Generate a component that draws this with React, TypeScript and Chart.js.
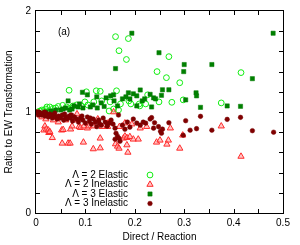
import React, { useEffect, useRef } from "react";
import { Chart, registerables } from "chart.js";

Chart.register(...registerables);

// Λ = 2 Elastic (open light-green circles)
const lambda2Elastic: [number, number][] = [
  [0.003, 1.0], [0.008, 1.01], [0.012, 1.02], [0.016, 1.015], [0.02, 1.03], [0.022, 1.05],
  [0.028, 1.05], [0.035, 1.037], [0.04, 1.04], [0.045, 1.055], [0.054, 1.066], [0.062, 1.05],
  [0.067, 1.215], [0.07, 1.04], [0.075, 1.06], [0.082, 1.07], [0.092, 1.06], [0.099, 1.1],
  [0.102, 1.2], [0.105, 1.07], [0.117, 1.1], [0.122, 1.21], [0.13, 1.205], [0.133, 1.11],
  [0.148, 1.01], [0.15, 1.1], [0.157, 1.03], [0.161, 1.746], [0.163, 1.21], [0.167, 1.02],
  [0.168, 1.607], [0.171, 1.08], [0.183, 1.52], [0.187, 1.727], [0.188, 1.11], [0.192, 1.08],
  [0.209, 1.08], [0.21, 1.06], [0.222, 1.08], [0.226, 1.17], [0.245, 1.4], [0.249, 1.1],
  [0.264, 1.34], [0.269, 1.548], [0.275, 1.096], [0.291, 1.29], [0.298, 1.12], [0.375, 1.09],
  [0.415, 1.39],
];

// Λ = 2 Inelastic (red triangles)
const lambda2Inelastic: [number, number][] = [
  [0.003, 0.99], [0.008, 0.97], [0.012, 0.95], [0.016, 0.82], [0.018, 0.86], [0.02, 0.93],
  [0.021, 0.83], [0.025, 0.82], [0.026, 0.795], [0.028, 0.805], [0.033, 0.745], [0.035, 0.92],
  [0.04, 0.95], [0.045, 0.9], [0.052, 0.82], [0.053, 0.69], [0.055, 0.825], [0.06, 0.92],
  [0.065, 0.69], [0.069, 0.69], [0.069, 0.96], [0.07, 0.83], [0.073, 0.86], [0.08, 0.92],
  [0.083, 0.98], [0.087, 0.855], [0.09, 0.845], [0.09, 0.93], [0.096, 0.7], [0.097, 0.86],
  [0.104, 0.84], [0.107, 0.86], [0.116, 0.634], [0.116, 0.86], [0.125, 0.93], [0.13, 0.643],
  [0.13, 0.74], [0.134, 0.855], [0.145, 0.855], [0.146, 0.89], [0.157, 1.0], [0.161, 0.683],
  [0.165, 0.66], [0.168, 0.64], [0.169, 0.855], [0.177, 0.74], [0.18, 0.89], [0.18, 0.76],
  [0.184, 0.745], [0.184, 0.673], [0.186, 0.6], [0.19, 0.755], [0.194, 0.88], [0.197, 0.73],
  [0.207, 0.73], [0.211, 0.84], [0.224, 0.855], [0.244, 0.7], [0.251, 0.72], [0.265, 0.68],
  [0.268, 0.72], [0.272, 0.84], [0.291, 0.64], [0.297, 0.77], [0.375, 0.86], [0.415, 0.56],
];

// Λ = 3 Elastic (dark-green squares)
const lambda3Elastic: [number, number][] = [
  [0.02, 1.0], [0.03, 1.01], [0.04, 1.02], [0.05, 1.02], [0.055, 1.03], [0.06, 1.04],
  [0.065, 1.11], [0.073, 1.03], [0.077, 1.06], [0.085, 1.05], [0.094, 1.195], [0.095, 1.04],
  [0.104, 1.17], [0.11, 1.05], [0.123, 1.15], [0.124, 1.04], [0.138, 1.055], [0.142, 1.14],
  [0.151, 1.16], [0.157, 1.17], [0.158, 1.11], [0.161, 1.43], [0.165, 1.06], [0.175, 1.13],
  [0.182, 1.15], [0.187, 1.19], [0.19, 1.13], [0.194, 1.78], [0.197, 1.18], [0.204, 1.16],
  [0.204, 1.06], [0.211, 1.218], [0.215, 1.11], [0.22, 1.13], [0.231, 1.175], [0.234, 1.05],
  [0.238, 1.14], [0.242, 1.13], [0.249, 1.587], [0.254, 1.165], [0.256, 1.22], [0.269, 1.22],
  [0.299, 1.4], [0.3, 1.47], [0.303, 1.12], [0.324, 1.19], [0.325, 1.16], [0.333, 1.046],
  [0.356, 1.47], [0.387, 1.06], [0.414, 1.056], [0.438, 1.33], [0.48, 1.78],
  [0.035, 1.0], [0.068, 1.02], [0.088, 1.08], [0.115, 1.07], [0.132, 1.09],
];

// Λ = 3 Inelastic (dark-red dots)
const lambda3Inelastic: [number, number][] = [
  [0.0, 1.0], [0.003, 0.99], [0.006, 1.0], [0.008, 0.98], [0.01, 0.99], [0.012, 0.97],
  [0.015, 0.98], [0.018, 0.96], [0.02, 0.99], [0.022, 0.97], [0.025, 0.95], [0.028, 0.98],
  [0.03, 0.96], [0.033, 0.94], [0.036, 0.97], [0.04, 0.95], [0.043, 0.93], [0.046, 0.96],
  [0.05, 0.94], [0.053, 0.97], [0.056, 0.92], [0.06, 0.95], [0.063, 0.93], [0.067, 0.96],
  [0.07, 0.94], [0.074, 0.91], [0.078, 0.95], [0.082, 0.93], [0.086, 0.9], [0.09, 0.94],
  [0.095, 0.92], [0.1, 0.89], [0.104, 0.95], [0.108, 0.91], [0.112, 0.88], [0.116, 0.93],
  [0.12, 0.9], [0.123, 0.855], [0.127, 0.92], [0.132, 0.87], [0.136, 0.94], [0.14, 0.9],
  [0.144, 0.86], [0.148, 0.89], [0.152, 0.92], [0.156, 0.88], [0.16, 0.84], [0.16, 0.73],
  [0.162, 0.79], [0.165, 0.76], [0.167, 0.97], [0.168, 0.74], [0.17, 0.71], [0.175, 0.87],
  [0.18, 0.83], [0.185, 0.9], [0.19, 0.85], [0.197, 0.93], [0.204, 0.89], [0.211, 0.87],
  [0.217, 0.9], [0.222, 0.89], [0.231, 0.93], [0.234, 0.944], [0.238, 0.84], [0.24, 0.894],
  [0.248, 0.855], [0.252, 0.81], [0.254, 0.79], [0.256, 0.83], [0.269, 0.894], [0.298, 0.77],
  [0.303, 0.914], [0.312, 0.82], [0.325, 0.835], [0.333, 0.957], [0.356, 0.82], [0.387, 0.927],
  [0.414, 0.947], [0.438, 0.815], [0.481, 0.8],
  [0.005, 0.97], [0.017, 1.0], [0.038, 0.99], [0.058, 0.98], [0.072, 0.97], [0.093, 0.96],
  [0.11, 0.94], [0.128, 0.89],
];

const seriesLabels = ["Λ = 2 Elastic", "Λ = 2 Inelastic", "Λ = 3 Elastic", "Λ = 3 Inelastic"];
const xTickValues = [0, 0.1, 0.2, 0.3, 0.4, 0.5];
const yTickValues = [0, 1, 2];
const xAxisTitle = "Direct / Reaction";
const yAxisTitle = "Ratio to EW Transformation";
const panelLabel = "(a)";

const FONT = "'Liberation Sans', Arial, sans-serif";

const styles = [
  { pointStyle: "circle", radius: 2.9, borderColor: "#11ee11", backgroundColor: "rgba(255,255,255,0)", borderWidth: 1 },
  { pointStyle: "triangle", radius: 3.6, borderColor: "#ff2a2a", backgroundColor: "rgba(255,150,150,0.55)", borderWidth: 1 },
  { pointStyle: "rect", radius: 3.0, borderColor: "#007a00", backgroundColor: "#008000", borderWidth: 0.5 },
  { pointStyle: "circle", radius: 2.3, borderColor: "#7a0000", backgroundColor: "#800000", borderWidth: 0.5 },
];

function drawMarker(ctx: CanvasRenderingContext2D, s: any, x: number, y: number) {
  ctx.save();
  ctx.beginPath();
  const r = s.radius;
  if (s.pointStyle === "circle") {
    ctx.arc(x, y, r, 0, Math.PI * 2);
  } else if (s.pointStyle === "triangle") {
    ctx.moveTo(x, y - r);
    ctx.lineTo(x + r * 0.866, y + r * 0.5);
    ctx.lineTo(x - r * 0.866, y + r * 0.5);
    ctx.closePath();
  } else {
    const h = r * Math.SQRT1_2;
    ctx.rect(x - h, y - h, 2 * h, 2 * h);
  }
  ctx.fillStyle = s.backgroundColor;
  ctx.fill();
  ctx.strokeStyle = s.borderColor;
  ctx.lineWidth = s.borderWidth;
  ctx.stroke();
  ctx.restore();
}

const framePlugin = {
  id: "gnuFrame",
  beforeDatasetsDraw(chart: any) {
    const { ctx, chartArea } = chart;
    const { left, right, top, bottom } = chartArea;
    const xs = chart.scales.x;
    const ys = chart.scales.y;
    ctx.save();
    ctx.strokeStyle = "#000";
    ctx.lineWidth = 1;
    ctx.strokeRect(Math.round(left) - 0.5, Math.round(top) - 0.5, Math.round(right - left) + 1, Math.round(bottom - top) + 1);
    const tl = 4;
    ctx.beginPath();
    for (let i = 1; i < 10; i++) {
      const v = i * 0.05;
      const px = Math.round(xs.getPixelForValue(v)) + 0.5;
      ctx.moveTo(px, bottom);
      ctx.lineTo(px, bottom - tl);
      ctx.moveTo(px, top);
      ctx.lineTo(px, top + tl);
    }
    for (let i = 1; i < 10; i++) {
      const v = i * 0.2;
      const py = Math.round(ys.getPixelForValue(v)) + 0.5;
      ctx.moveTo(left, py);
      ctx.lineTo(left + tl, py);
      ctx.moveTo(right, py);
      ctx.lineTo(right - tl, py);
    }
    ctx.stroke();
    ctx.restore();
  },
  afterDraw(chart: any) {
    const { ctx } = chart;
    ctx.save();
    ctx.font = `10px ${FONT}`;
    ctx.fillStyle = "#000";
    ctx.textBaseline = "middle";
    ctx.textAlign = "center";
    ctx.fillText(panelLabel, 64, 32);
    ctx.textAlign = "right";
    const rows = [175, 184.5, 194, 203.5];
    seriesLabels.forEach((lab, i) => {
      ctx.fillStyle = "#000";
      ctx.fillText(lab, 128, rows[i]);
      drawMarker(ctx, styles[i], 150, rows[i]);
    });
    ctx.restore();
  },
};

export default function App() {
  const ref = useRef<HTMLCanvasElement | null>(null);
  useEffect(() => {
    document.body.style.margin = "0";
    const canvas = ref.current!;
    const all = [lambda2Elastic, lambda2Inelastic, lambda3Elastic, lambda3Inelastic];
    const chart = new Chart(canvas, {
      type: "scatter",
      data: {
        datasets: all.map((arr, i) => ({
          label: seriesLabels[i],
          data: arr.map(([x, y]) => ({ x, y })),
          pointStyle: styles[i].pointStyle as any,
          pointRadius: styles[i].radius,
          pointBorderColor: styles[i].borderColor,
          pointBackgroundColor: styles[i].backgroundColor,
          pointBorderWidth: styles[i].borderWidth,
          order: 3 - i,
        })),
      },
      options: {
        animation: false,
        responsive: false,
        devicePixelRatio: 1,
        layout: { padding: { top: 11, right: 17, left: 0, bottom: 0 } },
        plugins: { legend: { display: false }, tooltip: { enabled: false } },
        scales: {
          x: {
            type: "linear",
            min: 0,
            max: 0.5,
            afterBuildTicks: (s: any) => {
              s.ticks = xTickValues.map((v) => ({ value: v }));
            },
            afterFit: (s: any) => {
              s.height = 32;
            },
            ticks: {
              padding: 4,
              color: "#000",
              font: { family: FONT, size: 10 },
              maxRotation: 0,
              callback: (v: any) => String(Number(v)),
            },
            grid: { display: false, drawTicks: false },
            border: { display: false },
            title: {
              display: true,
              text: xAxisTitle,
              color: "#000",
              font: { family: FONT, size: 10 },
              padding: { top: 0, bottom: 2 },
            },
          },
          y: {
            type: "linear",
            min: 0,
            max: 2,
            afterBuildTicks: (s: any) => {
              s.ticks = yTickValues.map((v) => ({ value: v }));
            },
            afterFit: (s: any) => {
              s.width = 36;
            },
            ticks: {
              padding: 5,
              color: "#000",
              font: { family: FONT, size: 10 },
              callback: (v: any) => String(Number(v)),
            },
            grid: { display: false, drawTicks: false },
            border: { display: false },
            title: {
              display: true,
              text: yAxisTitle,
              color: "#000",
              font: { family: FONT, size: 10 },
              padding: { top: 3, bottom: 0 },
            },
          },
        },
      },
      plugins: [framePlugin],
    });
    return () => chart.destroy();
  }, []);
  return (
    <div style={{ position: "absolute", left: 0, top: 0, width: 300, height: 245, background: "#fff" }}>
      <canvas ref={ref} width={300} height={245} style={{ width: 300, height: 245, display: "block" }} />
    </div>
  );
}
